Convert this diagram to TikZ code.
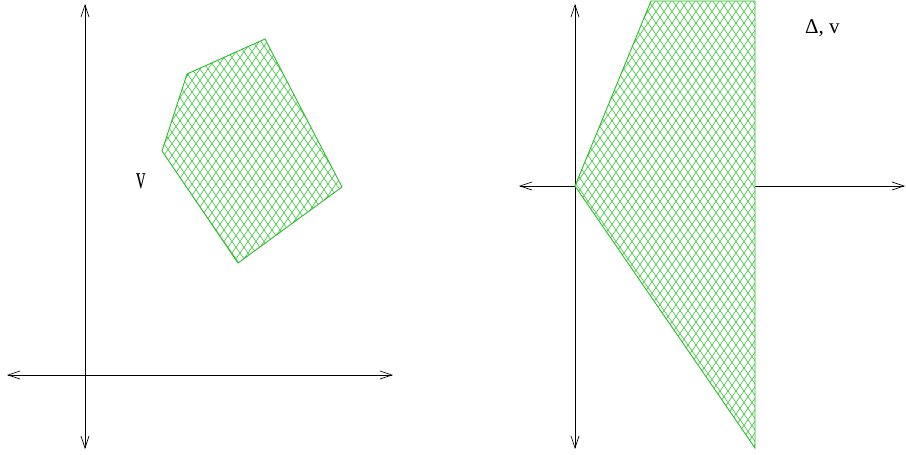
\documentclass[tikz,border=0pt]{standalone}
\usepackage{fontspec}
\setmainfont{Liberation Serif}
\usetikzlibrary{arrows.meta}
\definecolor{polyedge}{RGB}{40,190,40}
\definecolor{hatchc}{RGB}{60,200,60}
\tikzset{
  axis/.style={line width=0.7pt, black, {Straight Barb[length=12pt,width=8pt]}-{Straight Barb[length=12pt,width=8pt]}},
  polyline/.style={draw=polyedge, line width=0.9pt},
  hatchline/.style={hatchc, line width=0.6pt},
  lbl/.style={font=\fontsize{21}{23}\selectfont, inner sep=0pt, anchor=base west}
}
\begin{document}
\begin{tikzpicture}[x=1pt,y=-1pt]
\useasboundingbox (0,0) rectangle (906,455);
% left panel
\coordinate (lT) at (85,4);
\coordinate (lB) at (85,449);
\coordinate (lL) at (7,375);
\coordinate (lR) at (393,375);
\draw[axis] (lT) -- (lB);
\draw[axis] (lL) -- (lR);
\coordinate (p1) at (265,39);
\coordinate (p2) at (187,74);
\coordinate (p3) at (162,151);
\coordinate (p4) at (238,263);
\coordinate (p5) at (342,187);
\fill[white] (p1) -- (p2) -- (p3) -- (p4) -- (p5) -- cycle;
\begin{scope}
\clip (p1) -- (p2) -- (p3) -- (p4) -- (p5) -- cycle;
\foreach \c in {-400,-392,...,1300} {
  \draw[hatchline] (\c,0) -- ++(316.5,455);
  \draw[hatchline] (\c,0) -- ++(-316.5,455);
}
\end{scope}
\draw[polyline] (p1) -- (p2) -- (p3) -- (p4) -- (p5) -- cycle;
\node[lbl, font=\fontsize{19}{21}\selectfont] (v1) at (136,188) {\scalebox{1}[1.7]{v}};
% right panel
\coordinate (rT) at (575,4);
\coordinate (rB) at (575,449);
\coordinate (rL) at (519,186);
\coordinate (rR) at (905,186);
\draw[axis] (rT) -- (rB);
\draw[axis] (rL) -- (rR);
\coordinate (q1) at (651,1);
\coordinate (q2) at (755,1);
\coordinate (q3) at (755,448);
\coordinate (q4) at (575,186);
\fill[white] (q1) -- (q2) -- (q3) -- (q4) -- cycle;
\begin{scope}
\clip (q1) -- (q2) -- (q3) -- (q4) -- cycle;
\foreach \c in {-400,-392,...,1300} {
  \draw[hatchline] (\c,0) -- ++(316.5,455);
  \draw[hatchline] (\c,0) -- ++(-316.5,455);
}
\end{scope}
\draw[polyline] (q1) -- (q2) -- (q3) -- (q4) -- cycle;
\node[lbl] (dv) at (805,34) {Δ, v};
\end{tikzpicture}
\end{document}
